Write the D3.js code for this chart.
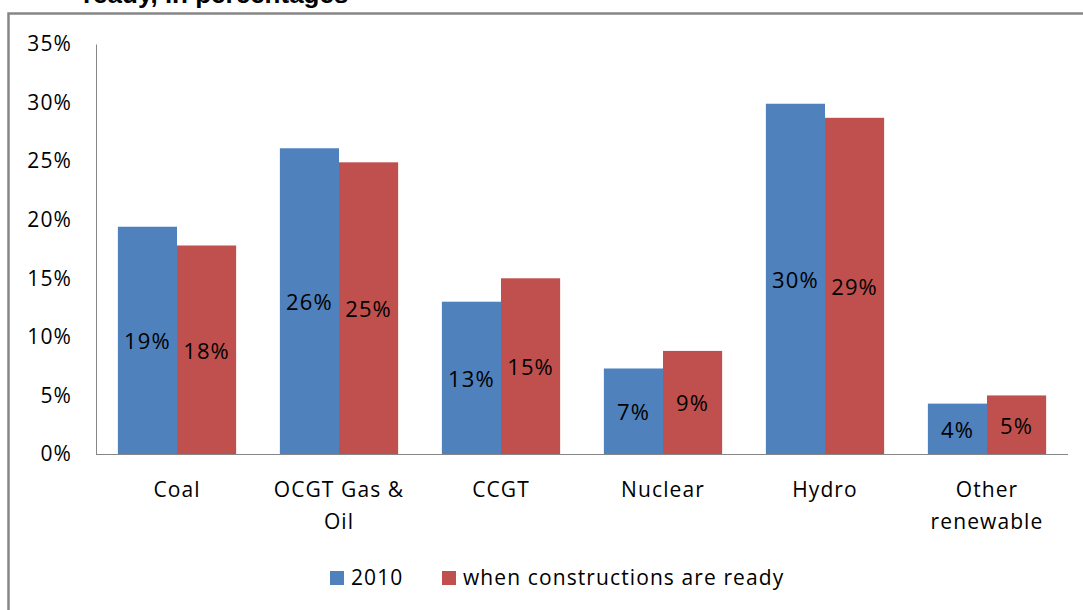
<!DOCTYPE html>
<html>
<head>
<meta charset="utf-8">
<script src="https://cdn.jsdelivr.net/npm/d3@7"></script>
<style>
  body { margin: 0; background: #fff; }
  svg text { font-family: "Open Sans", Lato, sans-serif; fill: #000; letter-spacing: 1.1px; }
</style>
</head>
<body>
<div id="chart"></div>
<script>
const width = 1083;
const height = 610;

// data
const categories = ["Coal", "OCGT Gas & Oil", "CCGT", "Nuclear", "Hydro", "Other renewable"];
const categoryLines = [["Coal"], ["OCGT Gas &", "Oil"], ["CCGT"], ["Nuclear"], ["Hydro"], ["Other", "renewable"]];
const seriesNames = ["2010", "when constructions are ready"];
const values2010 = [19.4, 26.1, 13.0, 7.3, 29.9, 4.3];
const valuesReady = [17.8, 24.9, 15.0, 8.8, 28.7, 5.0];
const yTicks = [0, 5, 10, 15, 20, 25, 30, 35];
const colors = ["#4F81BD", "#C0504D"];

const margin = { top: 44, right: 15, bottom: 156, left: 96 };

const svg = d3.select("#chart")
    .append("svg")
    .attr("width", width)
    .attr("height", height);

// outer frame of the chart object (runs off the picture on the right and bottom)
svg.append("rect")
    .attr("x", 8.5)
    .attr("y", 13.5)
    .attr("width", width + 20)
    .attr("height", height + 20)
    .attr("fill", "none")
    .attr("stroke", "#868686")
    .attr("stroke-width", 2.5);

// title line, cut off at the top as in the source
svg.append("text")
    .attr("x", 83)
    .attr("y", 3)
    .style("font-family", "'Liberation Sans', Arial, sans-serif")
    .style("font-weight", "bold")
    .style("font-size", "26px")
    .style("letter-spacing", "0px")
    .text("ready, in percentages");

const x0 = d3.scaleBand()
    .domain(categories)
    .range([margin.left, width - margin.right])
    .paddingInner(0.27)
    .paddingOuter(0.135);

const x1 = d3.scaleBand()
    .domain(seriesNames)
    .range([0, x0.bandwidth()]);

const y = d3.scaleLinear()
    .domain([0, 35])
    .range([height - margin.bottom, margin.top]);

// y axis
const yAxis = svg.append("g")
    .attr("transform", `translate(${margin.left},0)`)
    .call(d3.axisLeft(y).tickValues(yTicks).tickSize(0).tickPadding(24).tickFormat(d => d + "%"));
yAxis.select(".domain").attr("stroke", "#868686");
yAxis.selectAll("text")
    .style("font-family", "'Open Sans', sans-serif")
    .style("font-size", "21px")
    .attr("fill", "#000");

const rows = categories.map((c, i) => ({
    cat: c,
    vals: [values2010[i], valuesReady[i]]
}));

const groups = svg.append("g")
    .selectAll("g")
    .data(rows)
    .join("g")
    .attr("transform", d => `translate(${x0(d.cat)},0)`);

groups.selectAll("rect")
    .data(d => d.vals.map((v, j) => ({ key: seriesNames[j], v, j })))
    .join("rect")
    .attr("x", d => x1(d.key))
    .attr("y", d => y(d.v))
    .attr("width", x1.bandwidth())
    .attr("height", d => y(0) - y(d.v))
    .attr("fill", d => colors[d.j]);

groups.selectAll("text.value")
    .data(d => d.vals.map((v, j) => ({ key: seriesNames[j], v, j })))
    .join("text")
    .attr("class", "value")
    .attr("x", d => x1(d.key) + x1.bandwidth() / 2)
    .attr("y", d => (y(d.v) + y(0)) / 2 + 1)
    .attr("dy", "0.36em")
    .attr("text-anchor", "middle")
    .style("font-size", "22px")
    .text(d => Math.round(d.v) + "%");

// x axis baseline
svg.append("line")
    .attr("x1", margin.left)
    .attr("x2", width - margin.right)
    .attr("y1", y(0) + 0.5)
    .attr("y2", y(0) + 0.5)
    .attr("stroke", "#868686");

// category labels
svg.append("g")
    .selectAll("text")
    .data(categories)
    .join("text")
    .attr("x", d => x0(d) + x0.bandwidth() / 2)
    .attr("y", 497)
    .attr("text-anchor", "middle")
    .style("font-size", "21px")
    .each(function(d, i) {
        d3.select(this).selectAll("tspan")
            .data(categoryLines[i])
            .join("tspan")
            .attr("x", x0(d) + x0.bandwidth() / 2)
            .attr("dy", (t, k) => k === 0 ? 0 : 32)
            .text(t => t);
    });

// legend
const legendX = [330, 442];
const legend = svg.append("g")
    .selectAll("g")
    .data(seriesNames)
    .join("g")
    .attr("transform", (d, i) => `translate(${legendX[i]},571)`);

legend.append("rect")
    .attr("width", 14)
    .attr("height", 14)
    .attr("fill", (d, i) => colors[i]);

legend.append("text")
    .attr("x", 21)
    .attr("y", 14)
    .style("font-size", "21px")
    .text(d => d);
</script>
</body>
</html>
